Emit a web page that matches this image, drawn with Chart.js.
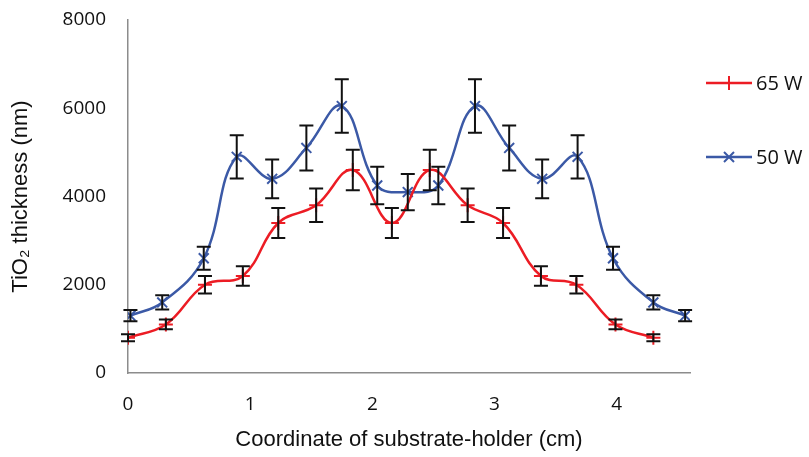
<!DOCTYPE html>
<html>
<head>
<meta charset="utf-8">
<script src="https://cdn.jsdelivr.net/npm/chart.js@4/dist/chart.umd.min.js"></script>
<style>
  html, body { margin: 0; padding: 0; background: #fff; }
  #wrap { width: 809px; height: 457px; }
</style>
</head>
<body>
<div id="wrap"><canvas id="thicknessChart" width="809" height="457"></canvas></div>
<script>
// x positions along the substrate-holder (cm)
const x65 = [0, 0.31, 0.63, 0.94, 1.23, 1.54, 1.84, 2.16, 2.47, 2.78, 3.07, 3.38, 3.67, 3.99, 4.3];
const x50 = [0.02, 0.28, 0.62, 0.89, 1.18, 1.46, 1.75, 2.04, 2.29, 2.54, 2.84, 3.12, 3.39, 3.68, 3.97, 4.3, 4.56];

// TiO2 thickness (nm)
const thick65 = [800, 1100, 2000, 2200, 3400, 3800, 4600, 3400, 4600, 3800, 3400, 2200, 2000, 1100, 800];
const thick50 = [1300, 1600, 2600, 4900, 4400, 5100, 6050, 4250, 4100, 4250, 6050, 5100, 4400, 4900, 2600, 1600, 1300];

// error bar half-heights (nm)
const err65 = [80, 110, 200, 220, 340, 380, 460, 340, 460, 380, 340, 220, 200, 110, 80];
const err50 = [130, 160, 260, 490, 440, 510, 605, 425, 410, 425, 605, 510, 440, 490, 260, 160, 130];

const seriesNames = ["65 W", "50 W"];
const xTicks = [0, 1, 2, 3, 4];

const red = "#ec1c24";
const blue = "#3b59a6";

const toPoints = (xs, ys) => xs.map((x, i) => ({ x: x, y: ys[i] }));

// black error bars, drawn from the chart scales
const errorBars = {
    id: "errorBars",
    afterDatasetsDraw(chart) {
        const ctx = chart.ctx;
        const xScale = chart.scales.x;
        const yScale = chart.scales.y;
        const errs = [err65, err50];
        ctx.save();
        ctx.strokeStyle = "#111";
        ctx.lineWidth = 2;
        chart.data.datasets.forEach((ds, d) => {
            ds.data.forEach((pt, i) => {
                const px = xScale.getPixelForValue(pt.x);
                const top = yScale.getPixelForValue(pt.y + errs[d][i]);
                const bot = yScale.getPixelForValue(pt.y - errs[d][i]);
                ctx.beginPath();
                ctx.moveTo(px, top);
                ctx.lineTo(px, bot);
                ctx.moveTo(px - 7, top);
                ctx.lineTo(px + 7, top);
                ctx.moveTo(px - 7, bot);
                ctx.lineTo(px + 7, bot);
                ctx.stroke();
            });
        });
        ctx.restore();
    }
};

// legend at the right: short line with marker, then label
const sideLegend = {
    id: "sideLegend",
    afterDraw(chart) {
        const ctx = chart.ctx;
        const rows = [83, 157];
        ctx.save();
        chart.data.datasets.forEach((ds, d) => {
            const y = rows[d];
            ctx.strokeStyle = ds.borderColor;
            ctx.lineWidth = 2.5;
            ctx.beginPath();
            ctx.moveTo(706, y);
            ctx.lineTo(752, y);
            ctx.stroke();
            ctx.lineWidth = 2;
            ctx.beginPath();
            if (d === 0) {
                ctx.moveTo(729, y - 7);
                ctx.lineTo(729, y + 7);
            } else {
                ctx.moveTo(724, y - 5);
                ctx.lineTo(734, y + 5);
                ctx.moveTo(734, y - 5);
                ctx.lineTo(724, y + 5);
            }
            ctx.stroke();
            ctx.fillStyle = "#111";
            ctx.font = "20px 'Open Sans'";
            ctx.textBaseline = "middle";
            ctx.fillText(seriesNames[d], 756, y + 1);
        });
        ctx.restore();
    }
};

const ctx = document.getElementById("thicknessChart").getContext("2d");

new Chart(ctx, {
    type: "line",
    data: {
        datasets: [
            {
                label: seriesNames[0],
                data: toPoints(x65, thick65),
                borderColor: red,
                backgroundColor: red,
                borderWidth: 2.5,
                tension: 0.4,
                pointStyle: "cross",
                pointRadius: 7,
                pointBorderWidth: 2,
                fill: false
            },
            {
                label: seriesNames[1],
                data: toPoints(x50, thick50),
                borderColor: blue,
                backgroundColor: blue,
                borderWidth: 2.5,
                tension: 0.4,
                pointStyle: "crossRot",
                pointRadius: 7,
                pointBorderWidth: 2,
                fill: false
            }
        ]
    },
    options: {
        responsive: false,
        animation: false,
        layout: { padding: { top: 20, right: 119, bottom: 0, left: 0 } },
        plugins: {
            legend: { display: false },
            tooltip: { enabled: false }
        },
        scales: {
            x: {
                type: "linear",
                min: 0,
                max: 4.6,
                afterBuildTicks: (scale) => {
                    scale.ticks = xTicks.map((v) => ({ value: v }));
                },
                afterFit: (scale) => { scale.height = 84; },
                grid: { display: false, drawTicks: false },
                border: { display: true, color: "#8c8c8c", width: 1.5 },
                ticks: {
                    color: "#111",
                    font: { family: "Open Sans", size: 19 },
                    padding: 20
                },
                title: {
                    display: true,
                    text: "Coordinate of substrate-holder (cm)",
                    color: "#111",
                    font: { family: "Liberation Sans", size: 22 },
                    padding: { top: 2 }
                }
            },
            y: {
                min: 0,
                max: 8000,
                afterFit: (scale) => {
                    scale.width = 128;
                    scale.paddingTop = 0;
                    scale.paddingBottom = 0;
                },
                grid: { display: false, drawTicks: false },
                border: { display: true, color: "#8c8c8c", width: 1.5 },
                ticks: {
                    stepSize: 2000,
                    color: "#111",
                    font: { family: "Open Sans", size: 19 },
                    padding: 22,
                    callback: (v) => String(v)
                },
                title: {
                    display: true,
                    text: "TiO₂ thickness (nm)",
                    color: "#111",
                    font: { family: "Liberation Sans", size: 22 },
                    padding: { top: 8, bottom: 4 }
                }
            }
        }
    },
    plugins: [errorBars, sideLegend]
});
</script>
</body>
</html>
